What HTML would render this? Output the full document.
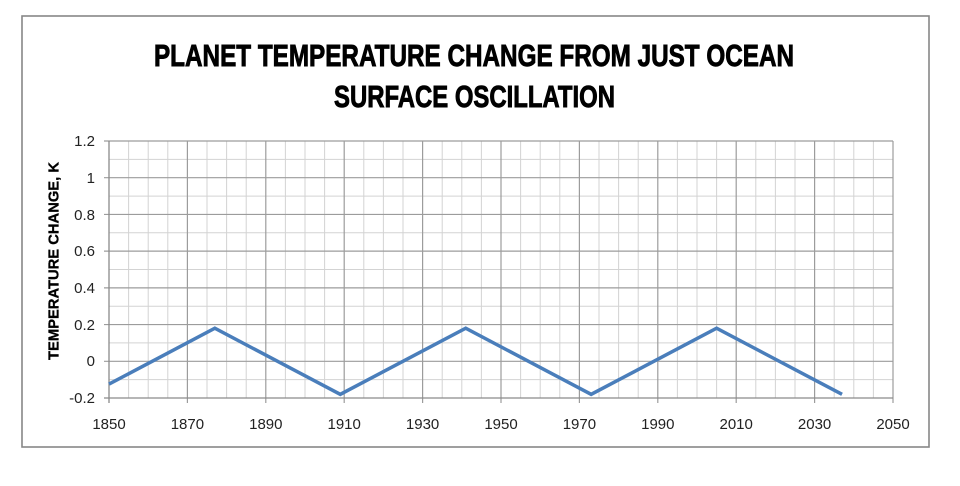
<!DOCTYPE html>
<html>
<head>
<meta charset="utf-8">
<style>
html,body{margin:0;padding:0;background:#fff;}
svg{display:block;}
</style>
</head>
<body>
<svg width="960" height="486" viewBox="0 0 960 486" xmlns="http://www.w3.org/2000/svg">
<rect x="0" y="0" width="960" height="486" fill="#fff"/>
<rect x="22" y="16" width="907" height="431" fill="#fff" stroke="#878787" stroke-width="1.6"/>
<g font-family="'Liberation Sans', sans-serif" font-weight="bold" fill="#000" stroke="#000" stroke-width="0.9" text-anchor="start">
<text x="154" y="66" font-size="31" textLength="640" lengthAdjust="spacingAndGlyphs">PLANET TEMPERATURE CHANGE FROM JUST OCEAN</text>
<text x="334" y="107" font-size="31" textLength="281" lengthAdjust="spacingAndGlyphs">SURFACE OSCILLATION</text>
</g>
<g stroke="#d3d3d3" stroke-width="1">
<line x1="128.6" y1="141" x2="128.6" y2="398"/><line x1="148.2" y1="141" x2="148.2" y2="398"/><line x1="167.8" y1="141" x2="167.8" y2="398"/>
<line x1="207" y1="141" x2="207" y2="398"/><line x1="226.6" y1="141" x2="226.6" y2="398"/><line x1="246.2" y1="141" x2="246.2" y2="398"/>
<line x1="285.4" y1="141" x2="285.4" y2="398"/><line x1="305" y1="141" x2="305" y2="398"/><line x1="324.6" y1="141" x2="324.6" y2="398"/>
<line x1="363.8" y1="141" x2="363.8" y2="398"/><line x1="383.4" y1="141" x2="383.4" y2="398"/><line x1="403" y1="141" x2="403" y2="398"/>
<line x1="442.2" y1="141" x2="442.2" y2="398"/><line x1="461.8" y1="141" x2="461.8" y2="398"/><line x1="481.4" y1="141" x2="481.4" y2="398"/>
<line x1="520.6" y1="141" x2="520.6" y2="398"/><line x1="540.2" y1="141" x2="540.2" y2="398"/><line x1="559.8" y1="141" x2="559.8" y2="398"/>
<line x1="599" y1="141" x2="599" y2="398"/><line x1="618.6" y1="141" x2="618.6" y2="398"/><line x1="638.2" y1="141" x2="638.2" y2="398"/>
<line x1="677.4" y1="141" x2="677.4" y2="398"/><line x1="697" y1="141" x2="697" y2="398"/><line x1="716.6" y1="141" x2="716.6" y2="398"/>
<line x1="755.8" y1="141" x2="755.8" y2="398"/><line x1="775.4" y1="141" x2="775.4" y2="398"/><line x1="795" y1="141" x2="795" y2="398"/>
<line x1="834.2" y1="141" x2="834.2" y2="398"/><line x1="853.8" y1="141" x2="853.8" y2="398"/><line x1="873.4" y1="141" x2="873.4" y2="398"/>
<line x1="109" y1="159.36" x2="893" y2="159.36"/><line x1="109" y1="196.07" x2="893" y2="196.07"/><line x1="109" y1="232.79" x2="893" y2="232.79"/>
<line x1="109" y1="269.5" x2="893" y2="269.5"/><line x1="109" y1="306.21" x2="893" y2="306.21"/><line x1="109" y1="342.93" x2="893" y2="342.93"/>
<line x1="109" y1="379.64" x2="893" y2="379.64"/>
</g>
<g stroke="#9c9c9c" stroke-width="1.2">
<line x1="187.4" y1="141" x2="187.4" y2="403"/><line x1="265.8" y1="141" x2="265.8" y2="403"/><line x1="344.2" y1="141" x2="344.2" y2="403"/>
<line x1="422.6" y1="141" x2="422.6" y2="403"/><line x1="501" y1="141" x2="501" y2="403"/><line x1="579.4" y1="141" x2="579.4" y2="403"/>
<line x1="657.8" y1="141" x2="657.8" y2="403"/><line x1="736.2" y1="141" x2="736.2" y2="403"/><line x1="814.6" y1="141" x2="814.6" y2="403"/>
<line x1="893" y1="141" x2="893" y2="403"/>
<line x1="104" y1="141" x2="893" y2="141"/><line x1="104" y1="177.71" x2="893" y2="177.71"/><line x1="104" y1="214.43" x2="893" y2="214.43"/>
<line x1="104" y1="251.14" x2="893" y2="251.14"/><line x1="104" y1="287.86" x2="893" y2="287.86"/><line x1="104" y1="324.57" x2="893" y2="324.57"/>
<line x1="104" y1="361.29" x2="893" y2="361.29"/>
</g>
<g stroke="#8a8a8a" stroke-width="1.3">
<line x1="109" y1="141" x2="109" y2="403"/>
<line x1="104" y1="398" x2="893" y2="398"/>
</g>
<polyline points="109,384.1 214.84,328.26 340.28,394.34 465.72,328.26 591.16,394.34 716.6,328.26 842.04,394.34" fill="none" stroke="#4a7ebb" stroke-width="3.5" stroke-linejoin="miter"/>
<g font-family="'Liberation Sans', sans-serif" font-size="15" fill="#222" text-anchor="end">
<text x="95" y="146">1.2</text>
<text x="95" y="183">1</text>
<text x="95" y="220">0.8</text>
<text x="95" y="256">0.6</text>
<text x="95" y="293">0.4</text>
<text x="95" y="330">0.2</text>
<text x="95" y="366">0</text>
<text x="95" y="403">-0.2</text>
</g>
<g font-family="'Liberation Sans', sans-serif" font-size="15" fill="#222" text-anchor="middle">
<text x="109" y="429">1850</text>
<text x="187.4" y="429">1870</text>
<text x="265.8" y="429">1890</text>
<text x="344.2" y="429">1910</text>
<text x="422.6" y="429">1930</text>
<text x="501" y="429">1950</text>
<text x="579.4" y="429">1970</text>
<text x="657.8" y="429">1990</text>
<text x="736.2" y="429">2010</text>
<text x="814.6" y="429">2030</text>
<text x="893" y="429">2050</text>
</g>
<text transform="translate(58.5,360) rotate(-90)" x="0" y="0" font-family="'Liberation Sans', sans-serif" font-weight="bold" font-size="15" fill="#000" stroke="#000" stroke-width="0.3" textLength="198" lengthAdjust="spacingAndGlyphs">TEMPERATURE CHANGE, K</text>
</svg>
</body>
</html>
